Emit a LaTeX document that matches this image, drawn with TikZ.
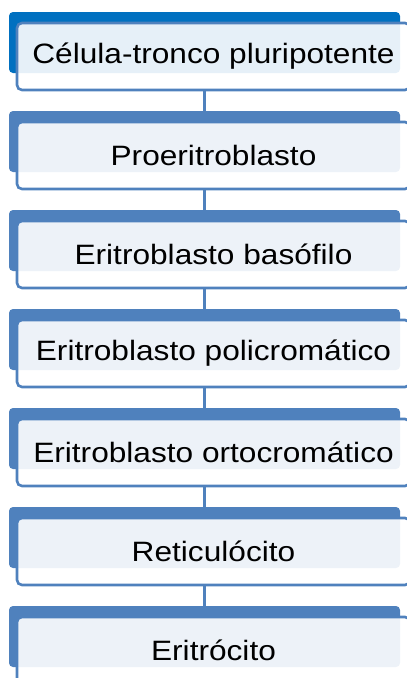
\documentclass[tikz,border=0pt]{standalone}
\usepackage{fontspec}
\setmainfont{Liberation Sans}[FakeStretch=1.13]
\definecolor{tabblue}{HTML}{4F81BD}
\definecolor{topblue}{HTML}{0070C0}
\begin{document}
\begin{tikzpicture}[x=1pt,y=-1pt,
  tab/.style={fill=tabblue,rounded corners=4pt,minimum width=391pt,minimum height=61pt,inner sep=0pt},
  stagebox/.style={draw=tabblue,line width=2.6pt,fill=white,fill opacity=0.9,text opacity=1,rounded corners=5pt,minimum width=393pt,minimum height=67pt,inner sep=0pt,font=\fontsize{28}{32}\selectfont},
  conn/.style={draw=tabblue,line width=3.8pt}]
\useasboundingbox (0,0) rectangle (407,678);
\node[tab,fill=topblue] (tab0) at (204.5,42.5) {};
\node[tab] (tab1) at (204.5,141.5) {};
\node[tab] (tab2) at (204.5,240.5) {};
\node[tab] (tab3) at (204.5,339.5) {};
\node[tab] (tab4) at (204.5,438.5) {};
\node[tab] (tab5) at (204.5,537.5) {};
\node[tab] (tab6) at (204.5,636.5) {};
\node[stagebox] (box0) at (213.5,56.5) {Célula-tronco pluripotente};
\node[stagebox] (box1) at (213.5,155.5) {Proeritroblasto};
\node[stagebox] (box2) at (213.5,254.5) {Eritroblasto basófilo};
\node[stagebox] (box3) at (213.5,353.5) {Eritroblasto policromático};
\node[stagebox] (box4) at (213.5,452.5) {Eritroblasto ortocromático};
\node[stagebox] (box5) at (213.5,551.5) {Reticulócito};
\node[stagebox] (box6) at (213.5,650.5) {Eritrócito};
\draw[conn] (box0.south -| tab1.north) -- (tab1.north);
\draw[conn] (box1.south -| tab2.north) -- (tab2.north);
\draw[conn] (box2.south -| tab3.north) -- (tab3.north);
\draw[conn] (box3.south -| tab4.north) -- (tab4.north);
\draw[conn] (box4.south -| tab5.north) -- (tab5.north);
\draw[conn] (box5.south -| tab6.north) -- (tab6.north);
\end{tikzpicture}
\end{document}
